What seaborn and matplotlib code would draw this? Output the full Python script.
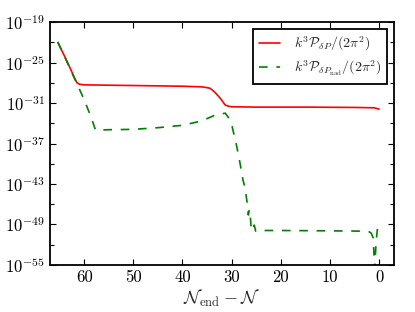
import numpy as np
import pandas as pd
import matplotlib
matplotlib.use("Agg")
import matplotlib.pyplot as plt
import seaborn as sns
from matplotlib.ticker import FixedLocator, NullFormatter

# ---- data (x = N_end - N, y = log10 of power) ----
red_N = [65.3, 64.5, 63.5, 62.5, 61.9, 61.5, 61.0, 60.0, 55.0, 50.0, 45.0, 40.0, 36.0,
         34.4, 33.4, 32.3, 31.3, 30.7, 30.0, 25.0, 15.0, 5.0, 1.0, 0.5, 0.0]
red_log = [-22.1, -23.3, -24.8, -26.4, -27.4, -27.95, -28.2, -28.3, -28.35, -28.4, -28.45,
           -28.5, -28.6, -28.8, -29.4, -30.3, -31.3, -31.45, -31.55, -31.6, -31.6, -31.65,
           -31.7, -31.8, -31.9]

green_N = [65.4, 64.0, 62.0, 60.0, 58.5, 57.7, 57.0, 55.0, 50.0, 45.0, 40.0, 37.0, 35.0,
           33.4, 32.0, 31.3, 30.7, 29.9, 29.0, 28.3, 27.7, 27.3, 27.0, 26.8, 26.6, 26.4,
           26.2, 26.0, 25.7, 25.4, 25.1, 24.8, 20.0, 10.0, 3.0, 2.0, 1.6, 1.2, 0.9, 0.6, 0.3]
green_log = [-21.9, -24.1, -27.3, -30.5, -33.3, -35.0, -35.0, -34.95, -34.9, -34.65, -34.3,
             -33.8, -33.3, -32.8, -32.6, -32.5, -33.1, -34.5, -37.3, -39.9, -42.4, -43.5,
             -45.0, -46.0, -47.6, -46.8, -47.8, -49.8, -49.9, -49.1, -50.0, -49.9, -49.9,
             -49.95, -50.0, -50.1, -50.3, -51.0, -55.5, -51.5, -49.4]

x_ticks = [60, 50, 40, 30, 20, 10, 0]
x_ticklabels = ["60", "50", "40", "30", "20", "10", "0"]
y_major_exp = [-55, -49, -43, -37, -31, -25, -19]
y_minor_exp = [-52, -46, -40, -34, -28, -22]

label_red = r"$k^3\mathcal{P}_{\delta P}/(2\pi^2)$"
label_green = r"$k^3\mathcal{P}_{\delta P_{\rm nad}}/(2\pi^2)$"

df_red = pd.DataFrame({"x": red_N, "y": [10.0 ** v for v in red_log]})
df_green = pd.DataFrame({"x": green_N, "y": [10.0 ** v for v in green_log]})

sns.set_style("ticks")
plt.rcParams.update({
    "font.family": "serif",
    "font.serif": ["cmr10", "DejaVu Serif"],
    "mathtext.fontset": "cm",
    "axes.formatter.use_mathtext": True,
    "font.size": 11,
    "xtick.direction": "in",
    "ytick.direction": "in",
    "xtick.top": True,
    "ytick.right": True,
    "axes.linewidth": 1.3,
    "axes.edgecolor": "black",
    "xtick.color": "black",
    "ytick.color": "black",
    "xtick.major.size": 4,
    "ytick.major.size": 4,
    "ytick.minor.size": 3,
    "xtick.major.width": 0.8,
    "ytick.major.width": 0.8,
    "ytick.minor.width": 0.8,
})

fig = plt.figure(figsize=(4.15, 3.12), dpi=100)
ax = fig.add_axes([0.120, 0.151, 0.829, 0.778])

sns.lineplot(data=df_red, x="x", y="y", ax=ax, color="red", lw=1.2,
             sort=False, label=label_red)
sns.lineplot(data=df_green, x="x", y="y", ax=ax, color="green", lw=1.2,
             sort=False, label=label_green, linestyle=(0, (5.2, 5.2)))

ax.set_yscale("log")
ax.set_ylim(1e-55, 1e-19)
ax.set_xlim(67.0, -3.0)
ax.yaxis.set_major_locator(FixedLocator([10.0 ** e for e in y_major_exp]))
ax.yaxis.set_minor_locator(FixedLocator([10.0 ** e for e in y_minor_exp]))
ax.yaxis.set_minor_formatter(NullFormatter())
ax.set_yticklabels([r"$10^{%d}$" % e for e in y_major_exp])
ax.set_xticks(x_ticks)
ax.set_xticklabels(x_ticklabels)
ax.tick_params(axis="x", which="minor", bottom=False, top=False)
ax.tick_params(labelsize=12)

ax.set_xlabel(r"$\mathcal{N}_{\rm end}-\mathcal{N}$", fontsize=13, labelpad=2)
ax.set_ylabel("")

leg = ax.legend(loc="upper right", fontsize=10, frameon=True, fancybox=False,
                framealpha=1, edgecolor="black", handlelength=1.5,
                handletextpad=1.0, borderaxespad=0.5, borderpad=0.4,
                labelspacing=0.4)
leg.get_frame().set_linewidth(1.3)

fig.savefig("out.png", dpi=100)
